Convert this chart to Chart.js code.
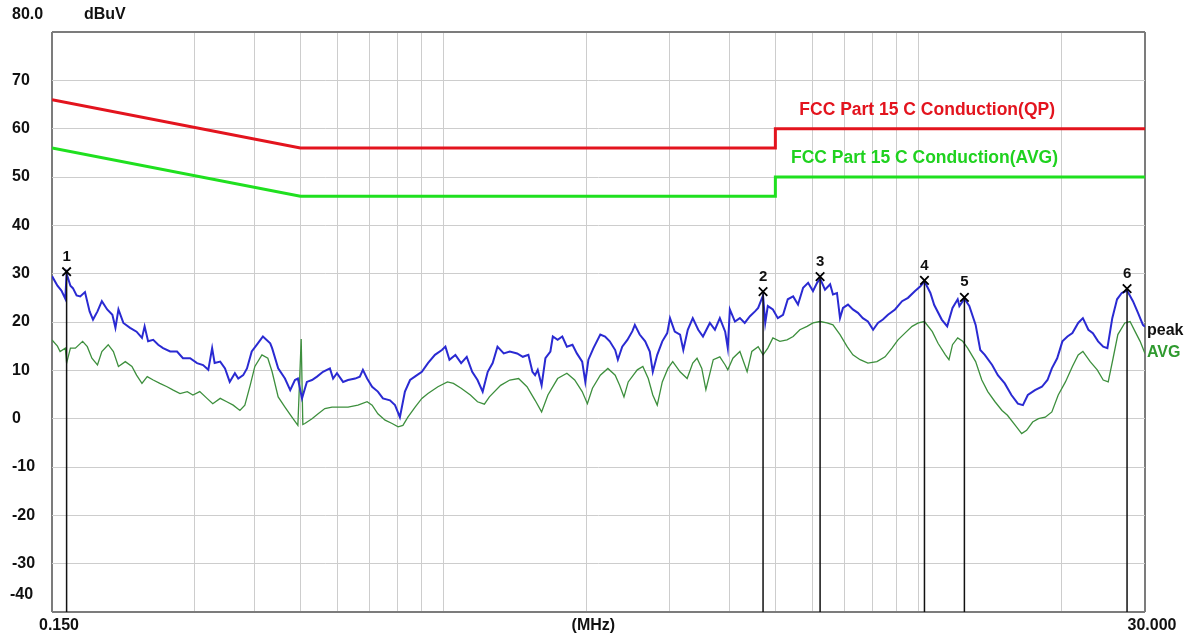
<!DOCTYPE html>
<html>
<head>
<meta charset="utf-8">
<title>Conducted Emission</title>
<script src="https://cdn.jsdelivr.net/npm/chart.js@4.4.1/dist/chart.umd.min.js"></script>
<style>
  html, body { margin: 0; padding: 0; background: #fff; }
  #wrap { width: 1193px; height: 635px; }
</style>
</head>
<body>
<div id="wrap"><canvas id="emiChart" width="1193" height="635"></canvas></div>
<script>
// ----------------------------
// Messdaten (MHz / dBuV)
// ----------------------------
const peakFreq = [
  0.150,0.154,0.157,0.160,0.161,0.164,0.166,0.169,0.172,0.176,
  0.180,0.183,0.187,0.191,0.196,0.201,0.204,0.207,0.212,0.219,
  0.226,0.232,0.235,0.239,0.245,0.251,0.257,0.266,0.275,0.283,
  0.293,0.303,0.312,0.320,0.326,0.330,0.339,0.347,0.355,0.364,
  0.370,0.379,0.386,0.395,0.405,0.417,0.432,0.436,0.449,0.464,
  0.476,0.487,0.494,0.504,0.516,0.529,0.542,0.558,0.577,0.586,
  0.597,0.615,0.630,0.652,0.667,0.677,0.691,0.708,0.728,0.746,
  0.772,0.791,0.810,0.830,0.851,0.880,0.901,0.928,0.960,0.993,
  1.01,1.03,1.06,1.09,1.12,1.15,1.18,1.21,1.24,1.27,
  1.30,1.34,1.38,1.43,1.47,1.51,1.54,1.56,1.58,1.61,
  1.64,1.68,1.70,1.74,1.78,1.82,1.87,1.91,1.96,1.99,
  2.02,2.07,2.14,2.19,2.24,2.30,2.33,2.38,2.44,2.50,
  2.53,2.59,2.66,2.72,2.76,2.82,2.89,2.96,3.00,3.07,
  3.15,3.20,3.27,3.35,3.44,3.52,3.64,3.73,3.82,3.92,
  3.97,4.01,4.11,4.21,4.31,4.42,4.53,4.60,4.71,4.76,
  4.82,4.94,5.06,5.19,5.31,5.45,5.58,5.72,5.86,6.00,
  6.12,6.21,6.36,6.52,6.61,6.74,6.84,6.94,7.11,7.28,
  7.46,7.64,7.83,8.03,8.22,8.42,8.63,8.93,9.24,9.51,
  9.84,10.1,10.3,10.6,10.8,11.2,11.5,11.8,12.1,12.2,
  12.5,12.8,13.2,13.5,13.8,14.3,14.7,15.2,15.7,16.2,
  16.6,17.0,17.6,18.2,18.7,19.1,19.6,20.1,20.6,21.1,
  21.7,22.2,22.8,23.3,23.9,24.5,25.0,25.6,26.2,26.8,
  27.5,28.3,29.0,29.7,30.0
];
const peakLevel = [
  29.5,27.5,26.5,24.8,30.0,27.5,27.0,25.5,25.3,26.2,
  22.2,20.5,22.2,24.3,22.6,21.5,18.8,22.6,19.8,18.8,
  18.0,16.7,19.1,16.0,16.3,15.3,14.6,13.9,13.9,12.5,
  12.5,11.5,11.1,10.1,14.6,11.5,11.8,10.4,7.6,9.4,
  8.3,9.0,10.4,13.9,15.3,17.0,15.6,14.6,10.4,8.3,
  5.9,8.0,8.3,4.2,7.6,8.0,8.7,9.7,10.4,8.3,
  9.4,7.6,8.0,8.3,8.7,10.1,8.3,6.6,5.6,4.2,
  3.8,2.8,0.3,5.6,8.0,9.0,9.7,11.5,13.2,14.2,
  14.9,12.2,13.2,11.5,12.8,9.7,8.0,5.6,9.7,11.5,
  14.9,13.5,13.9,13.5,12.8,13.2,9.7,9.0,10.1,6.9,
  12.5,13.9,17.0,16.3,17.0,14.9,15.3,13.5,11.8,7.6,
  12.2,14.6,17.4,17.0,16.0,14.2,12.2,14.9,16.3,18.1,
  19.4,17.4,16.0,13.9,9.7,13.2,16.0,17.7,20.8,18.0,
  17.4,14.2,18.4,20.8,18.4,17.0,19.8,18.4,20.8,18.0,
  14.6,22.6,20.1,20.8,19.8,21.2,22.2,22.9,25.5,19.8,
  23.3,22.6,20.8,21.5,24.7,25.3,23.6,27.1,28.1,26.4,
  28.1,29.0,26.7,27.8,25.7,26.0,20.8,22.9,23.6,22.6,
  21.9,20.8,20.1,18.4,19.8,20.5,21.5,22.6,24.3,25.0,
  26.4,27.4,28.4,26.0,23.5,20.5,19.1,22.9,24.7,23.3,
  24.8,23.3,19.4,14.2,13.2,11.1,9.0,7.3,4.9,3.1,
  2.8,4.9,5.9,6.6,8.0,10.4,12.5,16.0,17.0,17.7,
  19.8,20.8,18.4,17.7,16.0,14.9,14.6,20.8,24.7,26.0,
  26.5,24.3,21.9,19.4,19.0
];

const avgFreq = [
  0.150,0.154,0.156,0.160,0.161,0.164,0.168,0.174,0.178,0.182,
  0.187,0.191,0.197,0.202,0.207,0.214,0.221,0.226,0.232,0.238,
  0.245,0.253,0.262,0.270,0.279,0.289,0.297,0.307,0.318,0.327,
  0.339,0.350,0.361,0.373,0.382,0.392,0.401,0.415,0.427,0.436,
  0.449,0.464,0.480,0.494,0.502,0.506,0.511,0.529,0.545,0.563,
  0.583,0.606,0.630,0.661,0.691,0.708,0.728,0.754,0.780,0.803,
  0.822,0.842,0.872,0.901,0.928,0.974,1.02,1.05,1.09,1.14,
  1.18,1.22,1.25,1.32,1.38,1.44,1.50,1.56,1.61,1.66,
  1.74,1.82,1.89,1.96,2.01,2.06,2.14,2.22,2.30,2.35,
  2.40,2.45,2.56,2.63,2.70,2.76,2.82,2.89,2.97,3.04,
  3.15,3.26,3.35,3.42,3.50,3.57,3.70,3.82,3.92,3.97,
  4.07,4.21,4.36,4.46,4.60,4.71,4.82,4.94,5.11,5.29,
  5.45,5.63,5.83,6.00,6.21,6.42,6.61,6.84,7.08,7.28,
  7.54,7.83,8.18,8.51,8.80,9.06,9.37,9.70,10.0,10.3,
  10.7,11.0,11.4,11.6,11.8,12.1,12.4,12.7,13.2,13.6,
  14.0,14.5,15.0,15.4,16.0,16.5,16.9,17.4,17.9,18.5,
  19.1,19.7,20.4,21.1,21.7,22.2,23.0,23.8,24.5,25.1,
  25.7,26.3,27.2,27.9,28.6,29.3,30.0
];
const avgLevel = [
  16.3,15.0,13.9,14.6,11.5,14.6,14.6,16.0,14.9,12.5,
  11.1,13.9,15.3,13.9,10.8,11.8,10.8,9.0,7.3,8.7,
  8.0,7.3,6.6,5.9,5.2,5.6,4.9,5.6,4.2,3.1,
  4.2,3.5,2.8,1.7,2.8,6.9,10.8,13.2,12.5,9.7,
  4.5,2.4,0.3,-1.4,16.5,-1.2,-1.0,0.0,1.0,2.1,
  2.4,2.4,2.4,2.8,3.5,2.8,1.0,-0.3,-1.0,-1.7,
  -1.4,0.3,2.4,4.2,5.2,6.6,7.6,7.3,6.3,4.9,
  3.5,3.0,4.5,6.9,8.0,8.3,6.6,3.8,1.4,4.9,
  8.3,9.4,8.0,5.6,3.1,6.3,9.0,10.4,9.0,6.9,
  4.5,7.6,10.1,10.8,8.3,4.9,2.8,7.6,10.4,11.8,
  9.7,8.3,11.5,12.5,10.4,6.0,12.2,12.8,11.1,10.1,
  12.5,13.9,9.7,13.9,14.9,13.2,14.6,16.7,16.0,16.3,
  17.0,18.4,19.1,19.8,20.1,19.8,19.4,17.4,14.9,13.2,
  12.2,11.5,11.8,12.8,14.6,16.3,17.7,19.1,19.8,20.1,
  18.0,15.6,13.2,12.2,15.3,16.7,16.0,14.6,11.8,8.0,
  5.6,3.5,1.7,0.7,-1.4,-3.1,-2.4,-0.7,0.0,0.3,
  1.4,4.9,7.6,10.8,13.2,13.9,11.8,10.1,8.0,7.6,
  12.5,17.4,19.8,20.1,18.0,16.0,13.5
];

// ----------------------------
// Grenzwerte FCC Part 15 C
// ----------------------------
const limitFreq = [0.15, 0.5, 5, 5, 30];
const qpLimit   = [66, 56, 56, 60, 60];
const avgLimit  = [56, 46, 46, 50, 50];

// ----------------------------
// Marker
// ----------------------------
const markerNames = ['1', '2', '3', '4', '5', '6'];
const markerFreq  = [0.161, 4.71, 6.21, 10.3, 12.5, 27.5];
const markerLevel = [30.4, 26.3, 29.4, 28.6, 25.1, 26.9];

// ----------------------------
// Achsen
// ----------------------------
const xMin = 0.15, xMax = 30;
const xGridValues = [0.15, 0.3, 0.4, 0.5, 0.6, 0.7, 0.8, 0.9, 1, 2, 3, 4, 5, 6, 7, 8, 9, 10, 20, 30];
const xLabels = { 0.15: '0.150', 2: '(MHz)', 30: '30.000' };
const yMin = -40, yMax = 80, yStep = 10;

const FAMILY = "'Liberation Sans', Arial, sans-serif";
const FRAME = '#7c7c7c';
const GRID = '#cdcdcd';

function toXY(xs, ys) {
  return xs.map((x, i) => ({ x: x, y: ys[i] }));
}

// Marker-Linien: vom Pegel bis zur x-Achse, mit Lücke dazwischen
const markerLineData = [];
markerFreq.forEach((f, i) => {
  markerLineData.push({ x: f, y: markerLevel[i] });
  markerLineData.push({ x: f, y: yMin });
  markerLineData.push({ x: f, y: null });
});

// ----------------------------
// Texte (Kopf, Marker-Nummern, Beschriftungen)
// ----------------------------
const textPlugin = {
  id: 'emiTexte',
  afterDraw(chart) {
    const { ctx, chartArea } = chart;
    const sx = chart.scales.x, sy = chart.scales.y;
    ctx.save();
    ctx.textBaseline = 'middle';
    ctx.font = 'bold 16px ' + FAMILY;
    ctx.fillStyle = '#111';
    ctx.textAlign = 'left';
    ctx.fillText(yMax.toFixed(1), 12, 15);
    ctx.fillText('dBuV', 84, 15);
    ctx.fillText(String(yMin), 10, sy.getPixelForValue(yMin) - 17);

    // Marker-Nummern über dem X
    ctx.textAlign = 'center';
    ctx.font = 'bold 15px ' + FAMILY;
    markerFreq.forEach((f, i) => {
      ctx.fillText(markerNames[i], sx.getPixelForValue(f), sy.getPixelForValue(markerLevel[i]) - 15);
    });

    // Grenzwert-Namen
    ctx.textAlign = 'right';
    ctx.font = 'bold 17.5px ' + FAMILY;
    ctx.fillStyle = '#e3141e';
    ctx.fillText('FCC Part 15 C Conduction(QP)', chartArea.right - 90, sy.getPixelForValue(qpLimit[4]) - 18);
    ctx.fillStyle = '#1fd21f';
    ctx.fillText('FCC Part 15 C Conduction(AVG)', chartArea.right - 87, sy.getPixelForValue(avgLimit[4]) - 19);

    // Spur-Namen rechts
    ctx.textAlign = 'left';
    ctx.font = 'bold 16px ' + FAMILY;
    ctx.fillStyle = '#111';
    ctx.fillText('peak', chartArea.right + 2, sy.getPixelForValue(18.2));
    ctx.fillStyle = '#2f9a2f';
    ctx.fillText('AVG', chartArea.right + 2, sy.getPixelForValue(13.7));
    ctx.restore();
  }
};

// ----------------------------
// Chart
// ----------------------------
const emiChart = new Chart(document.getElementById('emiChart'), {
  type: 'line',
  data: {
    datasets: [
      {
        label: 'Marker',
        data: toXY(markerFreq, markerLevel),
        showLine: false,
        pointStyle: 'crossRot',
        pointRadius: 6,
        pointBorderWidth: 1.8,
        pointBorderColor: '#000',
        pointBackgroundColor: '#000'
      },
      {
        label: 'Marker-Linien',
        data: markerLineData,
        borderColor: '#111',
        borderWidth: 1.5,
        pointRadius: 0,
        spanGaps: false
      },
      {
        label: 'peak',
        data: toXY(peakFreq, peakLevel),
        borderColor: '#2a2ad2',
        borderWidth: 2,
        pointRadius: 0,
        tension: 0
      },
      {
        label: 'AVG',
        data: toXY(avgFreq, avgLevel),
        borderColor: '#3d8f3d',
        borderWidth: 1.3,
        pointRadius: 0,
        tension: 0
      },
      {
        label: 'FCC Part 15 C Conduction(QP)',
        data: toXY(limitFreq, qpLimit),
        borderColor: '#e3141e',
        borderWidth: 3,
        pointRadius: 0
      },
      {
        label: 'FCC Part 15 C Conduction(AVG)',
        data: toXY(limitFreq, avgLimit),
        borderColor: '#1fe01f',
        borderWidth: 3,
        pointRadius: 0
      }
    ]
  },
  options: {
    responsive: false,
    maintainAspectRatio: false,
    devicePixelRatio: 1,
    animation: false,
    layout: { padding: { left: 12, right: 48, top: 32, bottom: 0 } },
    plugins: {
      legend: { display: false },
      tooltip: { enabled: false },
      title: { display: false }
    },
    scales: {
      x: {
        type: 'logarithmic',
        min: xMin,
        max: xMax,
        afterBuildTicks: (scale) => { scale.ticks = xGridValues.map(v => ({ value: v })); },
        afterFit: (scale) => { scale.height = 23; },
        border: { display: false },
        grid: {
          drawTicks: false,
          color: (c) => (c.tick && (c.tick.value === xMin || c.tick.value === xMax)) ? FRAME : GRID,
          lineWidth: (c) => (c.tick && (c.tick.value === xMin || c.tick.value === xMax)) ? 2 : 1
        },
        ticks: {
          autoSkip: false,
          maxRotation: 0,
          minRotation: 0,
          padding: 4,
          labelOffset: 7,
          color: '#111',
          font: { family: FAMILY, size: 16, weight: 'bold' },
          callback: (v) => xLabels[v] || ''
        }
      },
      y: {
        min: yMin,
        max: yMax,
        afterFit: (scale) => { scale.width = 40; },
        border: { display: false },
        grid: {
          drawTicks: false,
          color: (c) => (c.tick && (c.tick.value === yMin || c.tick.value === yMax)) ? FRAME : GRID,
          lineWidth: (c) => (c.tick && (c.tick.value === yMin || c.tick.value === yMax)) ? 2 : 1
        },
        ticks: {
          stepSize: yStep,
          crossAlign: 'far',
          padding: 0,
          color: '#111',
          font: { family: FAMILY, size: 16, weight: 'bold' },
          callback: (v) => (v === yMin || v === yMax) ? '' : v
        }
      }
    }
  },
  plugins: [textPlugin]
});
</script>
</body>
</html>
